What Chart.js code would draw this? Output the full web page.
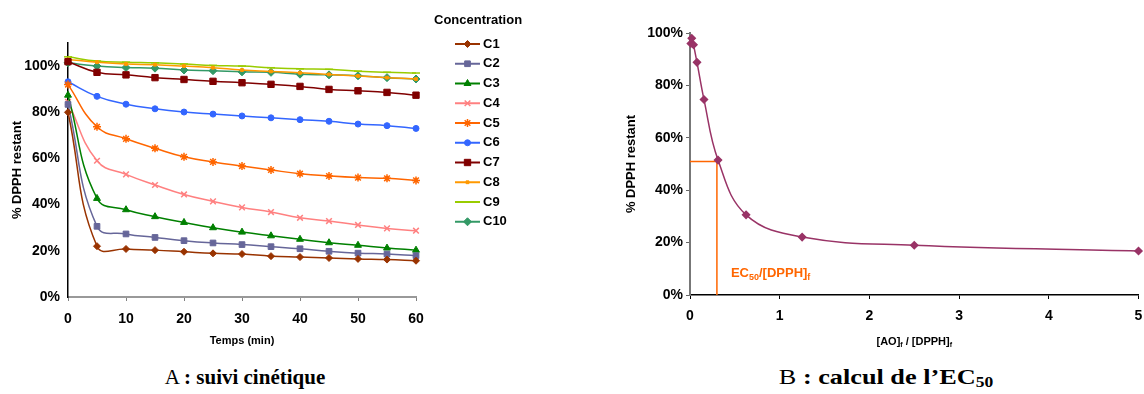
<!DOCTYPE html>
<html>
<head>
<meta charset="utf-8">
<script src="https://cdn.jsdelivr.net/npm/chart.js@4.4.0/dist/chart.umd.min.js"></script>
<style>
  html, body { margin: 0; padding: 0; background: #fff; }
  body { width: 1144px; height: 394px; position: relative; overflow: hidden; }
  #wrapA { position: absolute; left: 0; top: 0; width: 560px; height: 360px; }
  #wrapB { position: absolute; left: 590px; top: 0; width: 554px; height: 360px; }
  .caption { position: absolute; top: 365px; font-family: "Liberation Serif", "Times New Roman", serif;
             font-size: 21px; line-height: 24px; white-space: nowrap; color: #000; }
  .caption sub { font-size: 14px; vertical-align: -3px; line-height: 0; }
  #capA { left: 245px; transform: translateX(-50%); }
  #capB { left: 886px; transform: translateX(-50%) scaleX(1.25); }
</style>
</head>
<body>
<div id="wrapA"><canvas id="chartA" width="560" height="360"></canvas></div>
<div id="wrapB"><canvas id="chartB" width="554" height="360"></canvas></div>
<div class="caption" id="capA">A <b>: suivi cinétique</b></div>
<div class="caption" id="capB">B <b>: calcul de l’EC<sub>50</sub></b></div>

<script>
// ---- A : suivi cinétique (values in % DPPH restant)
const times = [0, 5, 10, 15, 20, 25, 30, 35, 40, 45, 50, 55, 60];
const c1  = [80.0, 22.0, 20.8, 20.3, 19.6, 18.9, 18.6, 17.7, 17.3, 16.9, 16.5, 16.2, 15.7];
const c2  = [83.4, 30.6, 27.3, 25.8, 24.4, 23.4, 22.7, 21.8, 20.9, 19.8, 19.0, 18.6, 17.9];
const c3  = [87.4, 42.7, 37.8, 34.8, 32.3, 30.0, 28.1, 26.5, 25.0, 23.5, 22.4, 21.2, 20.3];
const c4  = [84.5, 59.0, 53.1, 48.5, 44.4, 41.4, 38.8, 36.8, 34.3, 32.9, 31.2, 29.7, 28.7];
const c5  = [92.0, 73.7, 68.5, 64.4, 60.7, 58.5, 56.7, 55.0, 53.4, 52.4, 51.7, 51.4, 50.5];
const c6  = [93.2, 86.9, 83.5, 81.5, 80.1, 79.2, 78.4, 77.6, 76.8, 76.1, 74.9, 74.2, 73.0];
const c7  = [101.9, 97.3, 96.2, 95.0, 94.2, 93.4, 92.8, 92.1, 91.2, 89.9, 89.3, 88.6, 87.4];
const c8  = [102.9, 101.7, 100.9, 100.6, 100.0, 99.3, 98.3, 97.7, 97.1, 96.4, 95.7, 95.0, 94.4];
const c9  = [104.0, 102.2, 101.7, 101.4, 100.9, 100.3, 100.0, 99.3, 98.8, 98.6, 97.8, 97.3, 97.0];
const c10 = [101.4, 100.0, 99.4, 99.1, 98.3, 98.0, 97.5, 97.3, 96.5, 96.2, 95.8, 95.0, 94.4];
const seriesNames = ['C1', 'C2', 'C3', 'C4', 'C5', 'C6', 'C7', 'C8', 'C9', 'C10'];
const yTicksA = [0, 20, 40, 60, 80, 100];

// ---- B : calcul de l'EC50
const ratio = [0.0098, 0.0195, 0.039, 0.078, 0.156, 0.3125, 0.625, 1.25, 2.5, 5];
const remaining = [96.0, 98.0, 95.5, 88.8, 74.6, 51.5, 30.6, 22.1, 19.0, 16.8];
const ec50X = [0, 0.3, 0.3];
const ec50Y = [51, 51, 0];

const FONT = '"Liberation Sans", Arial, sans-serif';

const styles = [
  { color: '#993300', point: 'rectRot',  r: 3.5 },
  { color: '#666699', point: 'rect',     r: 4 },
  { color: '#008000', point: 'triangle', r: 4 },
  { color: '#FF8080', point: 'crossRot', r: 4 },
  { color: '#FF6600', point: 'star',     r: 4 },
  { color: '#3366FF', point: 'circle',   r: 3 },
  { color: '#800000', point: 'rect',     r: 4.5 },
  { color: '#FF9900', point: 'rect',     r: 2 },
  { color: '#99CC00', point: 'line',     r: 4 },
  { color: '#339966', point: 'rectRot',  r: 4 }
];
const seriesA = [c1, c2, c3, c4, c5, c6, c7, c8, c9, c10];

const datasetsA = seriesA.map((vals, i) => ({
  label: seriesNames[i],
  data: times.map((t, k) => ({ x: t, y: vals[k] })),
  borderColor: styles[i].color,
  backgroundColor: styles[i].color,
  borderWidth: 1.5,
  tension: 0.45,
  pointStyle: styles[i].point,
  pointRadius: styles[i].r,
  pointBackgroundColor: styles[i].color,
  pointBorderColor: styles[i].color,
  pointBorderWidth: (styles[i].point === 'line' || styles[i].point.indexOf('cross') === 0 || styles[i].point === 'star') ? 1.5 : 1,
  clip: false
}));

// legend drawn by hand: title + line sample + marker
const concLegend = {
  id: 'concLegend',
  afterDraw(chart) {
    const ctx = chart.ctx;
    ctx.save();
    ctx.font = 'bold 13px ' + FONT;
    ctx.textBaseline = 'middle';
    ctx.textAlign = 'left';
    ctx.fillStyle = '#000';
    ctx.fillText('Concentration', 434, 20);
    chart.data.datasets.forEach((ds, i) => {
      const y = 44 + i * 19.75;
      ctx.strokeStyle = ds.borderColor;
      ctx.lineWidth = 2;
      ctx.beginPath(); ctx.moveTo(455, y); ctx.lineTo(480, y); ctx.stroke();
      ctx.fillStyle = ds.pointBackgroundColor;
      ctx.strokeStyle = ds.pointBorderColor;
      ctx.lineWidth = ds.pointBorderWidth;
      Chart.helpers.drawPoint(ctx, { pointStyle: ds.pointStyle, radius: ds.pointRadius, rotation: 0, borderWidth: ds.pointBorderWidth }, 467.5, y);
      ctx.fillStyle = '#000';
      ctx.fillText(ds.label, 483, y);
    });
    ctx.restore();
  }
};

new Chart(document.getElementById('chartA'), {
  type: 'line',
  data: { datasets: datasetsA },
  options: {
    responsive: false,
    animation: false,
    layout: { padding: { left: 0, top: 43, right: 144, bottom: 12 } },
    scales: {
      x: {
        type: 'linear', min: 0, max: 60,
        afterFit: s => { s.height = 51; },
        ticks: { stepSize: 10, padding: 10, color: '#000', font: { family: FONT, size: 14, weight: 'bold' } },
        grid: { drawOnChartArea: false, drawTicks: true, tickLength: 4, color: '#808080' },
        border: { color: '#999', width: 2 },
        title: { display: true, text: 'Temps (min)', color: '#000', padding: 0, font: { family: FONT, size: 11, weight: 'bold' } }
      },
      y: {
        min: 0, max: 110,
        afterFit: s => { s.width = 68; },
        afterBuildTicks: s => { s.ticks = yTicksA.map(v => ({ value: v })); },
        ticks: { padding: 8, color: '#000', callback: v => v + '%', font: { family: FONT, size: 14, weight: 'bold' } },
        grid: { drawOnChartArea: false, drawTicks: false },
        border: { color: '#000', width: 1.5 },
        title: { display: true, text: '% DPPH restant', color: '#000', padding: { top: 10 }, font: { family: FONT, size: 13, weight: 'bold' } }
      }
    },
    plugins: { legend: { display: false }, tooltip: { enabled: false } }
  },
  plugins: [concLegend]
});

// text with subscripts, drawn on canvas
function drawSubText(ctx, parts, x, y, size, align) {
  const main = 'bold ' + size + 'px ' + FONT;
  const small = 'bold ' + Math.round(size * 0.68) + 'px ' + FONT;
  let total = 0;
  parts.forEach(p => { ctx.font = p.sub ? small : main; total += ctx.measureText(p.t).width; });
  let cx = align === 'center' ? x - total / 2 : x;
  ctx.textAlign = 'left';
  ctx.textBaseline = 'middle';
  parts.forEach(p => {
    ctx.font = p.sub ? small : main;
    ctx.fillText(p.t, cx, p.sub ? y + size * 0.3 : y);
    cx += ctx.measureText(p.t).width;
  });
}

const ecTexts = {
  id: 'ecTexts',
  afterDraw(chart) {
    const ctx = chart.ctx;
    const xs = chart.scales.x, ys = chart.scales.y;
    ctx.save();
    ctx.fillStyle = '#000';
    drawSubText(ctx, [{ t: '[AO]' }, { t: 'f', sub: true }, { t: ' / [DPPH]' }, { t: 'f', sub: true }],
      (chart.chartArea.left + chart.chartArea.right) / 2, 342, 11, 'center');
    ctx.fillStyle = '#FF6600';
    drawSubText(ctx, [{ t: 'EC' }, { t: '50', sub: true }, { t: '/[DPPH]' }, { t: 'f', sub: true }],
      xs.getPixelForValue(ec50X[1]) + 14, ys.getPixelForValue(8.2), 13, 'left');
    ctx.restore();
  }
};

new Chart(document.getElementById('chartB'), {
  type: 'line',
  data: {
    datasets: [
      {
        label: '% DPPH restant',
        data: ratio.map((r, k) => ({ x: r, y: remaining[k] })),
        borderColor: '#993366',
        borderWidth: 1.5,
        tension: 0.4,
        pointStyle: 'rectRot',
        pointRadius: 3.5,
        pointBackgroundColor: '#993366',
        pointBorderColor: '#993366',
        clip: false
      },
      {
        label: 'EC50',
        data: ec50X.map((v, k) => ({ x: v, y: ec50Y[k] })),
        borderColor: '#FF6600',
        borderWidth: 1.5,
        tension: 0,
        pointRadius: 0,
        clip: false
      }
    ]
  },
  options: {
    responsive: false,
    animation: false,
    layout: { padding: { left: 0, top: 33, right: 2, bottom: 14 } },
    scales: {
      x: {
        type: 'linear', min: 0, max: 5,
        afterFit: s => { s.height = 51; s.paddingRight = 0; s.paddingLeft = 0; },
        ticks: { stepSize: 1, padding: 9, color: '#000', font: { family: FONT, size: 14, weight: 'bold' } },
        grid: { drawOnChartArea: false, drawTicks: true, tickLength: 4, color: '#000' },
        border: { color: '#000', width: 1.5 }
      },
      y: {
        min: 0, max: 100,
        afterFit: s => { s.width = 100; },
        ticks: { stepSize: 20, padding: 3, color: '#000', callback: v => v + '%', font: { family: FONT, size: 14, weight: 'bold' } },
        grid: { drawOnChartArea: false, drawTicks: true, tickLength: 4, color: '#666' },
        border: { color: '#777', width: 2 },
        title: { display: true, text: '% DPPH restant', color: '#000', padding: { top: 34 }, font: { family: FONT, size: 13, weight: 'bold' } }
      }
    },
    plugins: { legend: { display: false }, tooltip: { enabled: false } }
  },
  plugins: [ecTexts]
});
</script>
</body>
</html>
